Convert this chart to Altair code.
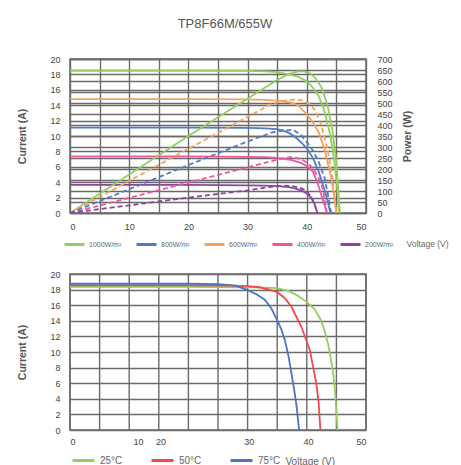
import altair as alt
import pandas as pd

chart_title = "TP8F66M/655W"

# ---------------- top chart: I-V and P-V curves at different irradiance ----------------
irr_names = ["1000W/m²", "800W/m²", "600W/m²", "400W/m²", "200W/m²"]
irr_colors = ["#93cf5f", "#4f7bc8", "#f5a25c", "#ee56a0", "#8d449f"]

# green curve (legend 1000W/m²)
green_iv_v = [0, 10, 20, 30, 33, 35, 37, 38.5, 40, 41, 42, 43, 44, 44.6, 45.1, 45.5]
green_iv_i = [18.5, 18.5, 18.5, 18.45, 18.4, 18.3, 18.0, 17.7, 17.1, 16.3, 15.2, 13.2, 10.0, 7.0, 3.5, 0]
green_p_v = [0, 10, 20, 30, 35, 37, 38.5, 39.5, 40.5, 41.5, 42.5, 43.5, 44.3, 45, 45.6]
green_p_w = [0, 175, 350, 520, 605, 632, 644, 644, 635, 612, 570, 490, 380, 230, 0]

# orange curve (legend 600W/m²)
orange_iv_v = [0, 10, 20, 30, 33, 35, 37, 38.5, 40, 41, 42, 43, 44, 44.5, 45]
orange_iv_i = [14.8, 14.8, 14.8, 14.75, 14.7, 14.6, 14.4, 14.0, 12.8, 11.8, 10.5, 8.3, 5.0, 2.8, 0]
orange_p_v = [0, 10, 20, 30, 34, 36, 38, 39.4, 40.5, 41.5, 42.5, 43.5, 44.3, 45]
orange_p_w = [0, 146, 292, 437, 495, 510, 516, 512, 495, 465, 395, 290, 170, 0]

# blue curve (legend 800W/m²)
blue_iv_v = [0, 10, 20, 30, 33, 35, 36, 37, 38, 39, 40, 41, 42, 43, 43.5, 44]
blue_iv_i = [11.1, 11.1, 11.1, 11.05, 11.0, 10.9, 10.7, 10.4, 9.9, 9.2, 8.4, 7.2, 5.4, 3.0, 1.6, 0]
blue_p_v = [0, 10, 20, 30, 34, 36, 37.7, 39, 40, 41, 42, 43, 43.6, 44.1]
blue_p_w = [0, 108, 218, 325, 365, 375, 378, 355, 322, 285, 232, 160, 80, 0]

# pink curve (legend 400W/m²)
pink_iv_v = [0, 10, 20, 30, 33, 35, 37, 38, 39, 40, 41, 41.7, 42.2, 42.8, 43.4]
pink_iv_i = [7.35, 7.35, 7.35, 7.3, 7.25, 7.15, 6.95, 6.75, 6.5, 6.1, 5.4, 4.2, 3.0, 1.5, 0]
pink_p_v = [0, 10, 20, 30, 34, 36, 37.5, 39, 40, 41, 42, 42.7, 43.4]
pink_p_w = [0, 69, 139, 207, 236, 248, 255, 245, 230, 205, 160, 110, 0]

# purple curve (legend 200W/m²)
purple_iv_v = [0, 10, 20, 30, 33, 35, 37, 38, 39, 40, 40.7, 41.3, 41.8]
purple_iv_i = [3.65, 3.65, 3.65, 3.6, 3.55, 3.5, 3.35, 3.2, 2.95, 2.55, 2.0, 1.2, 0]
purple_p_v = [0, 10, 20, 30, 34, 36, 37.5, 39, 40, 41, 41.8]
purple_p_w = [0, 35, 70, 103, 119, 124, 123, 113, 100, 62, 0]

# ---------------- bottom chart: I-V curves at different temperatures ----------------
temp_names = ["25°C", "50°C", "75°C"]
temp_colors = ["#93cf5f", "#f04a4a", "#4a74c4"]

t25_v = [0, 10, 20, 30, 33, 35, 37, 38.5, 40, 41.3, 42.3, 43, 43.6, 44.1, 44.5, 44.8, 45.2]
t25_i = [18.35, 18.35, 18.35, 18.3, 18.25, 18.2, 17.8, 17.2, 16.4, 15.5, 14.2, 12.8, 11.0, 9.0, 7.0, 4.7, 0]
t50_v = [0, 10, 20, 27, 30, 32, 35, 36.3, 37.4, 39.1, 40.5, 41.6, 42, 42.3]
t50_i = [18.55, 18.55, 18.55, 18.5, 18.45, 18.3, 17.7, 16.9, 15.8, 13.2, 10.3, 6.0, 3.5, 0]
t75_v = [0, 10, 20, 25, 28, 30.1, 31.5, 32.9, 34, 35, 35.7, 36.3, 36.9, 37.4, 37.9, 38.3, 38.7]
t75_i = [18.75, 18.75, 18.75, 18.7, 18.5, 17.9, 17.4, 16.7, 15.6, 14.1, 12.9, 11.5, 9.5, 7.3, 5.0, 2.9, 0]

# axis ticks
top_x_ticks = [0, 5, 10, 15, 20, 25, 30, 35, 40, 45, 50]
current_ticks = [0, 2, 4, 6, 8, 10, 12, 14, 16, 18, 20]
power_ticks = [0, 50, 100, 150, 200, 250, 300, 350, 400, 450, 500, 550, 600, 650, 700]
bottom_grid_v = [0, 5, 10, 15, 20, 25, 30, 35, 40, 45, 50]
bottom_label_pos = [0, 11.5, 15.3, 30.2, 40.2, 50]
bottom_label_txt = ["0", "10", "20", "30", "40", "50"]

# ---------------- build tables ----------------
def rows(name, vs, vals, col, extra=None):
    out = []
    for k, (a, b) in enumerate(zip(vs, vals)):
        r = {"series": name, "V": a, col: b, "k": k}
        if extra:
            r.update(extra)
        out.append(r)
    return out

iv_rows = (rows(irr_names[0], green_iv_v, green_iv_i, "I")
           + rows(irr_names[2], orange_iv_v, orange_iv_i, "I")
           + rows(irr_names[1], blue_iv_v, blue_iv_i, "I")
           + rows(irr_names[3], pink_iv_v, pink_iv_i, "I")
           + rows(irr_names[4], purple_iv_v, purple_iv_i, "I"))
p_rows = (rows(irr_names[0], green_p_v, green_p_w, "P", {"dash": "solid"})
          + rows(irr_names[2], orange_p_v, orange_p_w, "P", {"dash": "dash"})
          + rows(irr_names[1], blue_p_v, blue_p_w, "P", {"dash": "dash"})
          + rows(irr_names[3], pink_p_v, pink_p_w, "P", {"dash": "dash"})
          + rows(irr_names[4], purple_p_v, purple_p_w, "P", {"dash": "dash"}))
t_rows = (rows(temp_names[0], t25_v, t25_i, "I")
          + rows(temp_names[1], t50_v, t50_i, "I")
          + rows(temp_names[2], t75_v, t75_i, "I"))

df_iv = pd.DataFrame(iv_rows)
df_p = pd.DataFrame(p_rows)
df_t = pd.DataFrame(t_rows)
df_grid = pd.DataFrame({"V": bottom_grid_v})

GRID = "#6a6a6a"
LABEL = "#444444"
TITLE = "#555555"
FONT = "Liberation Sans"

# ---------------- top chart ----------------
x_top = alt.X("V:Q", scale=alt.Scale(domain=[0, 50], nice=False),
              axis=alt.Axis(values=top_x_ticks, grid=True, ticks=False, domain=False,
                            labelExpr="datum.value % 10 == 0 ? datum.label : ''",
                            labelPadding=9, labelFontSize=9, labelColor=LABEL,
                            title="Voltage (V)", titleX=336, titleY=30, titleAlign="left",
                            titleBaseline="middle", titleFontSize=8.5, titleFontWeight="normal",
                            titleColor="#666666"))

color_top = alt.Color("series:N", scale=alt.Scale(domain=irr_names, range=irr_colors),
                      legend=alt.Legend(orient="none", legendX=-7, legendY=174,
                                        direction="horizontal", columns=5, title=None,
                                        gridAlign="none",
                                        symbolType="stroke", symbolSize=400,
                                        symbolStrokeWidth=3, labelFontSize=7,
                                        labelColor="#666666", columnPadding=8,
                                        labelOffset=3))

iv_layer = alt.Chart(df_iv).mark_line(strokeWidth=1.8).encode(
    x=x_top,
    y=alt.Y("I:Q", scale=alt.Scale(domain=[0, 20], nice=False),
            axis=alt.Axis(values=current_ticks, grid=True, ticks=False, domain=False,
                          labelPadding=10, labelFontSize=9, labelColor=LABEL,
                          title="Current (A)", titlePadding=22, titleFontSize=10.5,
                          titleColor=TITLE)),
    color=color_top,
    order="k:Q",
)

p_layer = alt.Chart(df_p).mark_line(strokeWidth=1.8).encode(
    x=x_top,
    y=alt.Y("P:Q", scale=alt.Scale(domain=[0, 700], nice=False),
            axis=alt.Axis(orient="right", values=power_ticks, grid=True, ticks=False,
                          domain=False, labelPadding=11, labelFontSize=9,
                          labelColor=LABEL, title="Power (W)", titleAngle=270,
                          titlePadding=20, titleFontSize=10.5, titleColor=TITLE)),
    color=color_top,
    strokeDash=alt.StrokeDash("dash:N", scale=alt.Scale(domain=["solid", "dash"],
                                                         range=[[1, 0], [5, 3]]),
                              legend=None),
    order="k:Q",
)

top = alt.layer(iv_layer, p_layer).resolve_scale(y="independent").properties(
    width=296, height=154,
    title=alt.Title(chart_title, fontSize=13, fontWeight="normal", color="#555555",
                    anchor="middle", dx=7, offset=24),
)

# ---------------- bottom chart ----------------
x_bot_scale = alt.Scale(domain=[0, 50], nice=False)
label_expr = ("[" + ",".join("'%s'" % t for t in bottom_label_txt) + "][indexof(["
              + ",".join(str(p) for p in bottom_label_pos) + "], datum.value)]")
x_bot = alt.X("V:Q", scale=x_bot_scale,
              axis=alt.Axis(values=bottom_label_pos, grid=False, ticks=False, domain=False,
                            labelExpr=label_expr, labelPadding=7, labelFontSize=9,
                            labelColor=LABEL, title="Voltage (V)", titleX=215, titleY=31,
                            titleAlign="left", titleBaseline="middle", titleFontSize=10,
                            titleFontWeight="normal", titleColor="#666666"))

grid_layer = alt.Chart(df_grid).mark_rule(color=GRID, strokeWidth=1.4).encode(x=x_bot)

t_layer = alt.Chart(df_t).mark_line(strokeWidth=1.8).encode(
    x=x_bot,
    y=alt.Y("I:Q", scale=alt.Scale(domain=[0, 20], nice=False),
            axis=alt.Axis(values=current_ticks, grid=True, ticks=False, domain=False,
                          labelPadding=10, labelFontSize=9, labelColor=LABEL,
                          title="Current (A)", titlePadding=22, titleFontSize=10.5,
                          titleColor=TITLE)),
    color=alt.Color("series:N", scale=alt.Scale(domain=temp_names, range=temp_colors),
                    legend=alt.Legend(orient="none", legendX=1, legendY=174,
                                      direction="horizontal", columns=3, title=None,
                                      gridAlign="none",
                                      symbolType="stroke", symbolSize=480,
                                      symbolStrokeWidth=3, labelFontSize=10,
                                      labelColor="#666666", columnPadding=22,
                                      labelOffset=4)),
    order="k:Q",
)

bottom = alt.layer(grid_layer, t_layer).properties(width=296, height=156)

chart = alt.vconcat(top, bottom, spacing=17).resolve_scale(
    color="independent", x="independent", y="independent"
).properties(
    padding={"left": 9, "top": 9, "right": 0, "bottom": 0}
).configure(font=FONT).configure_view(
    stroke="#6a6a6a", strokeWidth=1.5
).configure_axis(
    gridColor=GRID, gridWidth=1.4, gridOpacity=1, titleFontWeight="bold"
)

chart.save("out.html", embed_options={"renderer": "svg", "actions": False})
